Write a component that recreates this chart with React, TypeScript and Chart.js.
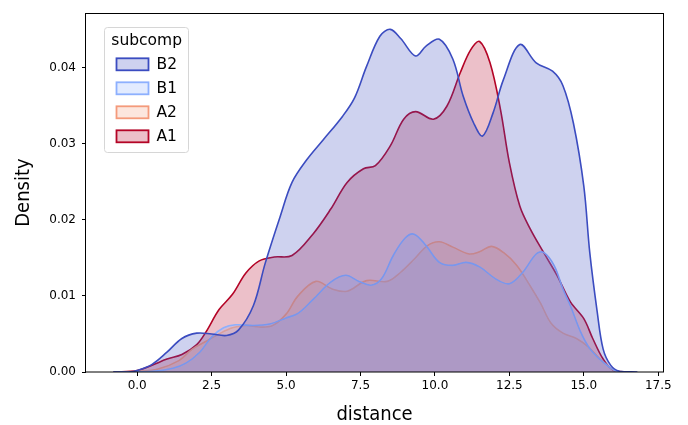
import React, { useEffect, useRef } from "react";
import { Chart, registerables } from "chart.js";

Chart.register(...registerables);

const SERIES_NAMES = ["B2", "B1", "A2", "A1"];
const SERIES_COLORS = ["#3b4cc0", "#8db0fe", "#f49a7b", "#b40426"];

const B2_X = [-0.8, -0.3, 0.0, 0.5, 1.0, 1.5, 2.0, 2.5, 3.0, 3.4, 3.9, 4.3, 4.8, 5.2, 5.7, 6.25, 6.9, 7.3, 7.7, 8.15, 8.5, 8.85, 9.35, 9.7, 10.15, 10.6, 10.95, 11.3, 11.6, 11.95, 12.3, 12.85, 13.4, 13.95, 14.3, 14.65, 15.0, 15.2, 15.45, 15.65, 15.9, 16.2, 16.8];
const B2_Y = [0, 0, 0.0002, 0.001, 0.0026, 0.0044, 0.0051, 0.005, 0.0048, 0.0055, 0.0087, 0.0143, 0.0204, 0.0249, 0.0279, 0.0305, 0.0336, 0.036, 0.0401, 0.0441, 0.045, 0.0438, 0.0415, 0.0428, 0.0437, 0.0411, 0.0362, 0.0327, 0.031, 0.034, 0.0384, 0.043, 0.0406, 0.0395, 0.0376, 0.0327, 0.0244, 0.0157, 0.0079, 0.003, 0.0009, 0.0001, 0];

const B1_X = [-0.8, 0.5, 1.2, 1.65, 2.1, 2.5, 2.9, 3.3, 3.9, 4.45, 5.0, 5.4, 5.9, 6.5, 7.0, 7.45, 7.85, 8.2, 8.6, 9.0, 9.3, 9.7, 10.15, 10.6, 11.05, 11.5, 12.05, 12.5, 12.95, 13.4, 13.65, 14.0, 14.3, 14.55, 14.9, 15.2, 15.65, 16.1, 16.6];
const B1_Y = [0, 0.0001, 0.0005, 0.0012, 0.0026, 0.0046, 0.0058, 0.0062, 0.0061, 0.0063, 0.0071, 0.0077, 0.0095, 0.0118, 0.0127, 0.0119, 0.0114, 0.0122, 0.0153, 0.0176, 0.0181, 0.0166, 0.0144, 0.014, 0.0144, 0.0138, 0.0122, 0.0116, 0.0131, 0.0155, 0.0157, 0.014, 0.0109, 0.0087, 0.0052, 0.0031, 0.0013, 0.0001, 0];

const A2_X = [-0.8, 0.0, 0.7, 1.4, 1.85, 2.3, 2.75, 3.2, 3.65, 4.1, 4.55, 5.0, 5.4, 6.0, 6.55, 7.05, 7.7, 8.4, 8.85, 9.3, 9.75, 10.15, 10.6, 11.15, 11.5, 11.9, 12.3, 12.75, 13.2, 13.55, 13.9, 14.3, 14.75, 15.15, 15.6, 16.1, 16.6];
const A2_Y = [0, 0.0001, 0.0004, 0.0015, 0.003, 0.004, 0.005, 0.0058, 0.0061, 0.0059, 0.0061, 0.0076, 0.01, 0.0119, 0.0109, 0.0106, 0.012, 0.0119, 0.0131, 0.0148, 0.0166, 0.0171, 0.0164, 0.0155, 0.0158, 0.0165, 0.0157, 0.014, 0.0113, 0.009, 0.0064, 0.0051, 0.0044, 0.0033, 0.0015, 0.0001, 0];

const A1_X = [-0.8, 0.0, 0.5, 1.0, 1.5, 2.0, 2.3, 2.75, 3.2, 3.65, 4.1, 4.6, 5.2, 5.9, 6.5, 7.05, 7.6, 8.0, 8.5, 8.95, 9.35, 9.95, 10.4, 10.85, 11.2, 11.5, 11.85, 12.2, 12.5, 12.85, 13.2, 13.65, 14.1, 14.55, 15.0, 15.3, 15.65, 16.0, 16.5];
const A1_Y = [0, 0.0002, 0.0009, 0.0017, 0.0023, 0.0036, 0.0052, 0.0082, 0.0102, 0.013, 0.0146, 0.0151, 0.0153, 0.0181, 0.0214, 0.0249, 0.0267, 0.0271, 0.0297, 0.0332, 0.0342, 0.0332, 0.0349, 0.0393, 0.0423, 0.0434, 0.0406, 0.0345, 0.0275, 0.0218, 0.0188, 0.0157, 0.0127, 0.0092, 0.007, 0.0044, 0.0017, 0.0002, 0];

const SERIES_X = [B2_X, B1_X, A2_X, A1_X];
const SERIES_Y = [B2_Y, B1_Y, A2_Y, A1_Y];

const X_TICKS = [0, 2.5, 5, 7.5, 10, 12.5, 15, 17.5];
const Y_TICKS = [0, 0.01, 0.02, 0.03, 0.04];
const X_MIN = -1.72;
const X_MAX = 17.66;
const Y_MIN = 0;
const Y_MAX = 0.04712;

const LEGEND_TITLE = "subcomp";
const X_TITLE = "distance";
const Y_TITLE = "Density";

const TICK_FONT = "'DejaVu Sans', sans-serif";
const TITLE_FONT = "'DejaVu Sans Condensed', 'DejaVu Sans', sans-serif";

function hexToRgba(hex: string, a: number) {
  const n = parseInt(hex.slice(1), 16);
  return `rgba(${(n >> 16) & 255}, ${(n >> 8) & 255}, ${n & 255}, ${a})`;
}

const framePlugin = {
  id: "frame",
  afterDatasetsDraw(chart: any) {
    const { ctx, chartArea } = chart;
    ctx.save();
    ctx.strokeStyle = "#000";
    ctx.lineWidth = 1;
    ctx.strokeRect(
      Math.round(chartArea.left) - 0.5,
      Math.round(chartArea.top) + 0.5,
      Math.round(chartArea.right - chartArea.left) + 1,
      Math.round(chartArea.bottom - chartArea.top) - 0.5
    );
    ctx.restore();
  },
};

const legendPlugin = {
  id: "seabornLegend",
  afterDraw(chart: any) {
    const { ctx } = chart;
    ctx.save();
    const x = 104.5, y = 27.5, w = 84, h = 125, r = 3;
    ctx.beginPath();
    ctx.moveTo(x + r, y);
    ctx.lineTo(x + w - r, y);
    ctx.arcTo(x + w, y, x + w, y + r, r);
    ctx.lineTo(x + w, y + h - r);
    ctx.arcTo(x + w, y + h, x + w - r, y + h, r);
    ctx.lineTo(x + r, y + h);
    ctx.arcTo(x, y + h, x, y + h - r, r);
    ctx.lineTo(x, y + r);
    ctx.arcTo(x, y, x + r, y, r);
    ctx.closePath();
    ctx.fillStyle = "rgba(255,255,255,0.8)";
    ctx.fill();
    ctx.strokeStyle = "#d6d6d6";
    ctx.lineWidth = 1;
    ctx.stroke();

    ctx.fillStyle = "#000";
    ctx.font = `15.5px ${TICK_FONT}`;
    ctx.textBaseline = "middle";
    ctx.textAlign = "center";
    ctx.fillText(LEGEND_TITLE, 146.7, 41);

    const rows = [64.3, 88.3, 112.3, 136.3];
    SERIES_NAMES.forEach((name, i) => {
      const cy = rows[i];
      ctx.fillStyle = "#fff";
      ctx.fillRect(116.5, cy - 6, 32, 12);
      ctx.fillStyle = hexToRgba(SERIES_COLORS[i], 0.25);
      ctx.fillRect(116.5, cy - 6, 32, 12);
      ctx.strokeStyle = SERIES_COLORS[i];
      ctx.lineWidth = 1.8;
      ctx.strokeRect(116.5, cy - 6, 32, 12);
      ctx.fillStyle = "#000";
      ctx.textAlign = "left";
      ctx.fillText(name, 156.5, cy + 1);
    });
    ctx.restore();
  },
};

export default function App() {
  const ref = useRef<HTMLCanvasElement | null>(null);

  useEffect(() => {
    if (!ref.current) return;
    const datasets = SERIES_NAMES.map((name, i) => ({
      label: name,
      data: SERIES_X[i].map((x, j) => ({ x, y: SERIES_Y[i][j] })),
      borderColor: SERIES_COLORS[i],
      backgroundColor: hexToRgba(SERIES_COLORS[i], 0.25),
      borderWidth: 1.6,
      fill: "origin",
      pointRadius: 0,
      tension: 0.35,
    }));

    const chart = new Chart(ref.current, {
      type: "line",
      data: { datasets },
      plugins: [framePlugin, legendPlugin],
      options: {
        animation: false,
        responsive: false,
        maintainAspectRatio: false,
        layout: { padding: { left: 0, top: 12, right: 25, bottom: 0 } },
        plugins: {
          legend: { display: false },
          tooltip: { enabled: false },
        },
        scales: {
          x: {
            type: "linear",
            min: X_MIN,
            max: X_MAX,
            afterBuildTicks: (scale: any) => {
              scale.ticks = X_TICKS.map((v) => ({ value: v }));
            },
            afterFit: (scale: any) => {
              scale.height = 53;
            },
            ticks: {
              color: "#000",
              font: { family: TICK_FONT, size: 12 },
              padding: 3,
              maxRotation: 0,
              autoSkip: false,
              callback: (v: any) => Number(v).toFixed(1),
            },
            grid: {
              drawOnChartArea: false,
              drawTicks: true,
              tickLength: 4,
              tickColor: "#000",
              tickWidth: 1,
            },
            border: { display: false },
            title: {
              display: true,
              text: X_TITLE,
              color: "#000",
              font: { family: TITLE_FONT, size: 20, lineHeight: 1 },
              padding: { top: 0, bottom: 0 },
            },
          },
          y: {
            type: "linear",
            min: Y_MIN,
            max: Y_MAX,
            afterBuildTicks: (scale: any) => {
              scale.ticks = Y_TICKS.map((v) => ({ value: v }));
            },
            afterFit: (scale: any) => {
              scale.width = 86;
            },
            ticks: {
              color: "#000",
              font: { family: TICK_FONT, size: 12 },
              padding: 6,
              autoSkip: false,
              callback: (v: any) => Number(v).toFixed(2),
            },
            grid: {
              drawOnChartArea: false,
              drawTicks: true,
              tickLength: 4,
              tickColor: "#000",
              tickWidth: 1,
            },
            border: { display: false },
            title: {
              display: true,
              text: Y_TITLE,
              color: "#000",
              font: { family: TITLE_FONT, size: 20, lineHeight: 1 },
              padding: { top: 14, bottom: 0 },
            },
          },
        },
      },
    });
    return () => chart.destroy();
  }, []);

  return (
    <div style={{ position: "absolute", left: 0, top: 0, width: 688, height: 425, background: "#fff" }}>
      <canvas ref={ref} width={688} height={425} style={{ display: "block" }} />
    </div>
  );
}
